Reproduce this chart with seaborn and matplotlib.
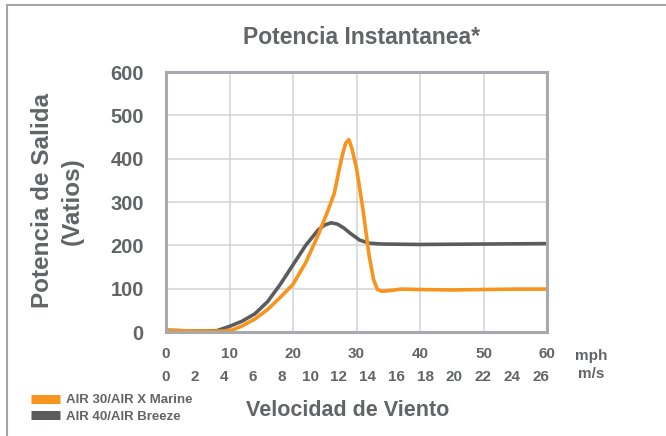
import matplotlib
matplotlib.use("Agg")
import matplotlib.pyplot as plt
from matplotlib.lines import Line2D
import seaborn as sns
import pandas as pd

# curves (mph, watts)
air30_mph = [0, 5, 9, 10.5, 12, 14, 16, 18, 20, 22, 24, 25.5, 26.5, 27.2, 27.8, 28.3, 28.8, 29.3, 30, 31, 32, 32.7, 33.3, 34, 35.5, 37, 40, 45, 50, 55, 60]
air30_w = [4, 2, 2, 5, 14, 30, 52, 80, 110, 160, 225, 280, 320, 370, 410, 436, 444, 422, 378, 285, 175, 120, 98, 94, 96, 99, 98, 97, 98, 99, 99]
air40_mph = [0, 5, 8, 10, 12, 14, 16, 18, 20, 22, 24, 25, 26, 27, 28, 29, 30.5, 32, 34, 40, 50, 60]
air40_w = [4, 2, 3, 13, 25, 42, 70, 110, 155, 200, 236, 247, 252, 249, 240, 228, 212, 205, 203, 202, 203, 204]

mph_ticks = [0, 10, 20, 30, 40, 50, 60]
ms_ticks = [0, 2, 4, 6, 8, 10, 12, 14, 16, 18, 20, 22, 24, 26]
y_ticks = [0, 100, 200, 300, 400, 500, 600]
labels = ["AIR 30/AIR X Marine", "AIR 40/AIR Breeze"]

MS_TO_MPH = 2.27  # spacing of the m/s row as printed

orange = "#f7941d"
dgray = "#5b5c5e"
txt = "#636466"

df30 = pd.DataFrame({"mph": air30_mph, "w": air30_w})
df40 = pd.DataFrame({"mph": air40_mph, "w": air40_w})

sns.set_style("white")
plt.rcParams["font.family"] = ["Liberation Sans", "DejaVu Sans"]

fig = plt.figure(figsize=(6.66, 4.36), dpi=100)
ax = fig.add_axes([166 / 666, 1 - 332 / 436, (547 - 166) / 666, (332 - 72) / 436])

sns.lineplot(data=df40, x="mph", y="w", ax=ax, color=dgray, linewidth=2.6, label=labels[1],
             solid_joinstyle="round")
sns.lineplot(data=df30, x="mph", y="w", ax=ax, color=orange, linewidth=2.6, label=labels[0],
             solid_joinstyle="round")

ax.set_xlim(0, 60)
ax.set_ylim(0, 600)
ax.set_xticks(mph_ticks)
ax.set_yticks(y_ticks)
ax.grid(True, color="#d3d3d3", linewidth=1.1)
ax.set_axisbelow(True)
for s in ax.spines.values():
    s.set_color("#a7a9ac")
    s.set_linewidth(2.2)
ax.tick_params(axis="y", length=0, pad=16, labelsize=14.5, labelcolor=txt)
ax.tick_params(axis="x", length=0, pad=11, labelsize=11, labelcolor=txt)
for t in ax.get_yticklabels() + ax.get_xticklabels():
    t.set_fontweight("bold")
ax.set_xlabel("")
ax.set_ylabel("")

sec = ax.secondary_xaxis("bottom")
sec.set_xticks([v * MS_TO_MPH for v in ms_ticks])
sec.set_xticklabels([str(v) for v in ms_ticks])
sec.tick_params(length=0, pad=27, labelsize=11, labelcolor=txt)
for t in sec.get_xticklabels():
    t.set_fontweight("bold")
sec.spines["bottom"].set_visible(False)

fig.text(591 / 666, 1 - 356 / 436, "mph", ha="center", va="center", fontsize=11, fontweight="bold", color=txt)
fig.text(591 / 666, 1 - 374 / 436, "m/s", ha="center", va="center", fontsize=11, fontweight="bold", color=txt)

fig.text(361 / 666, 1 - 38 / 436, "Potencia Instantanea*", ha="center", va="center", fontsize=16.5, fontweight="bold", color=txt)
fig.text(348 / 666, 1 - 410 / 436, "Velocidad de Viento", ha="center", va="center", fontsize=15.5, fontweight="bold", color=txt)
fig.text(43 / 666, 1 - 200 / 436, "Potencia de Salida", ha="center", va="center", rotation=90, fontsize=17.5, fontweight="bold", color=txt)
fig.text(72 / 666, 1 - 201 / 436, "(Vatios)", ha="center", va="center", rotation=90, fontsize=17.5, fontweight="bold", color=txt)

ax.get_legend().remove()
handles = [Line2D([], [], color=orange, linewidth=6.5, solid_capstyle="butt"),
           Line2D([], [], color=dgray, linewidth=6.5, solid_capstyle="butt")]
leg = fig.legend(handles, labels, loc="upper left", bbox_to_anchor=(31 / 666, 1 - 394 / 436),
                 frameon=False, borderpad=0, borderaxespad=0, handlelength=2.2,
                 handletextpad=0.45, labelspacing=0.32,
                 prop={"size": 9.5, "weight": "bold"})
for t in leg.get_texts():
    t.set_color(txt)

# outer frame
fig.add_artist(Line2D([7 / 666, 1], [1 - 5 / 436, 1 - 5 / 436], transform=fig.transFigure, color="#a5a5a5", linewidth=1.5))
fig.add_artist(Line2D([7 / 666, 7 / 666], [0, 1 - 5 / 436], transform=fig.transFigure, color="#a5a5a5", linewidth=1.5))

fig.savefig("out.png", dpi=100)
